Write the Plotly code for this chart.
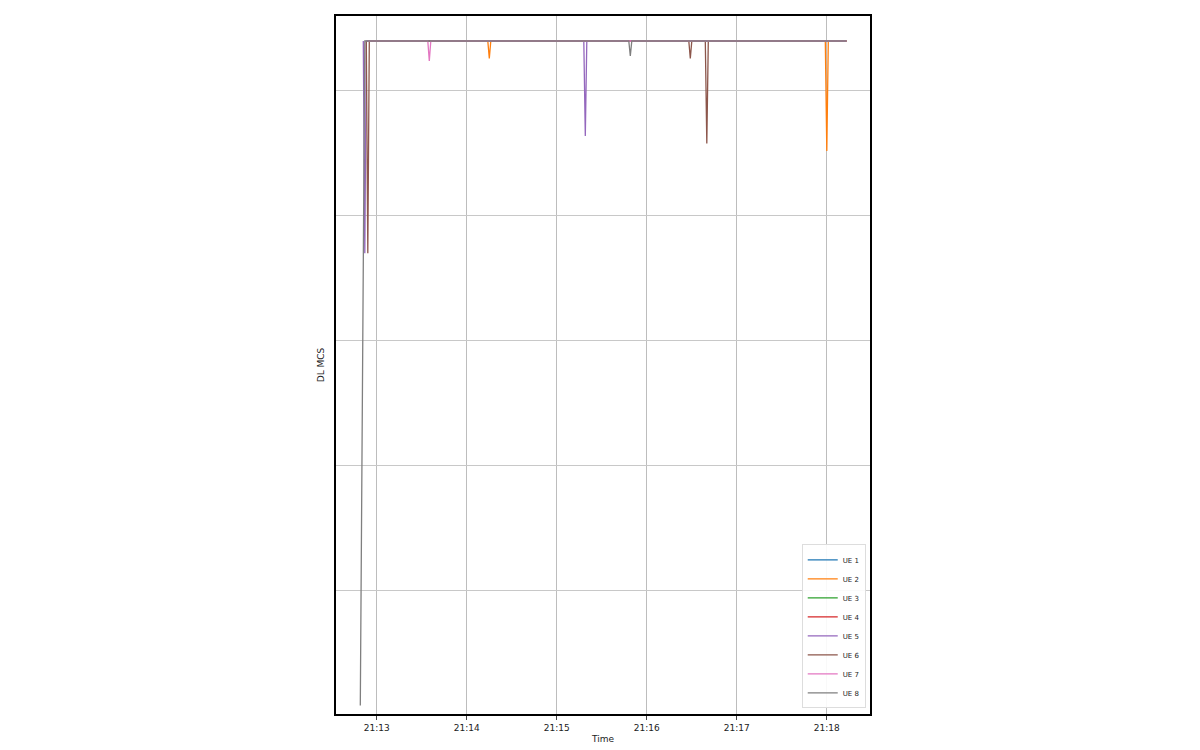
import plotly.graph_objects as go

D = "2024-01-01 "
ue_names = ["UE 1", "UE 2", "UE 3", "UE 4", "UE 5", "UE 6", "UE 7", "UE 8"]
colors = ["#1f77b4", "#ff7f0e", "#2ca02c", "#d62728", "#9467bd", "#8c564b", "#e377c2", "#7f7f7f"]

ue_times = [
    ["21:12:54", "21:18:13"],
    ["21:12:54", "21:14:14", "21:14:15", "21:14:16", "21:17:59", "21:18:00", "21:18:01", "21:18:13"],
    ["21:12:54", "21:18:13"],
    ["21:12:54", "21:18:13"],
    ["21:12:51", "21:12:52", "21:12:53", "21:15:18", "21:15:19", "21:15:20", "21:18:13"],
    ["21:12:53", "21:12:54", "21:12:55", "21:16:28", "21:16:29", "21:16:30", "21:16:39", "21:16:40", "21:16:41", "21:18:13"],
    ["21:12:54", "21:13:34", "21:13:35", "21:13:36", "21:18:13"],
    ["21:12:49", "21:12:52", "21:15:48", "21:15:49", "21:15:50", "21:18:13"],
]
ue_values = [
    [27, 27],
    [27, 27, 26.3, 27, 27, 22.6, 27, 27],
    [27, 27],
    [27, 27],
    [27, 18.5, 27, 27, 23.2, 27, 27],
    [27, 18.5, 27, 27, 26.3, 27, 27, 22.9, 27, 27],
    [27, 27, 26.2, 27, 27],
    [0.4, 27, 27, 26.4, 27, 27],
]

fig = go.Figure()
for name, c, ts, vs in zip(ue_names, colors, ue_times, ue_values):
    fig.add_trace(go.Scatter(x=[D + t for t in ts], y=vs, mode="lines", name=name,
                             line=dict(color=c, width=1.3)))

fig.update_layout(
    width=1200, height=750, paper_bgcolor="white", plot_bgcolor="white",
    margin=dict(l=328, r=338, t=6, b=44, pad=0),
    font=dict(family="DejaVu Sans", size=9, color="#222"),
    legend=dict(x=0.992, y=0.008, xanchor="right", yanchor="bottom",
                bordercolor="#ddd", borderwidth=1, bgcolor="rgba(255,255,255,0.9)",
                font=dict(size=7), tracegroupgap=0, itemwidth=30),
    showlegend=True,
)
fig.update_xaxes(
    type="date", range=[D + "21:12:32.8", D + "21:18:28.8"], tickformat="%H:%M", dtick=60000,
    showgrid=True, gridcolor="#bdbdbd", gridwidth=1, showline=True, linecolor="black",
    linewidth=1.5, mirror=True, ticks="outside", ticklen=4, zeroline=False,
    title=dict(text="Time", font=dict(size=9), standoff=4),
)
fig.update_yaxes(
    range=[0.06, 28.0], dtick=5, tick0=0, showticklabels=False,
    showgrid=True, gridcolor="#c8c8c8", gridwidth=1, showline=True, linecolor="black",
    linewidth=1.5, mirror=True, zeroline=False,
    title=dict(text="DL MCS", font=dict(size=9), standoff=8),
)
fig.write_html("out.html")
